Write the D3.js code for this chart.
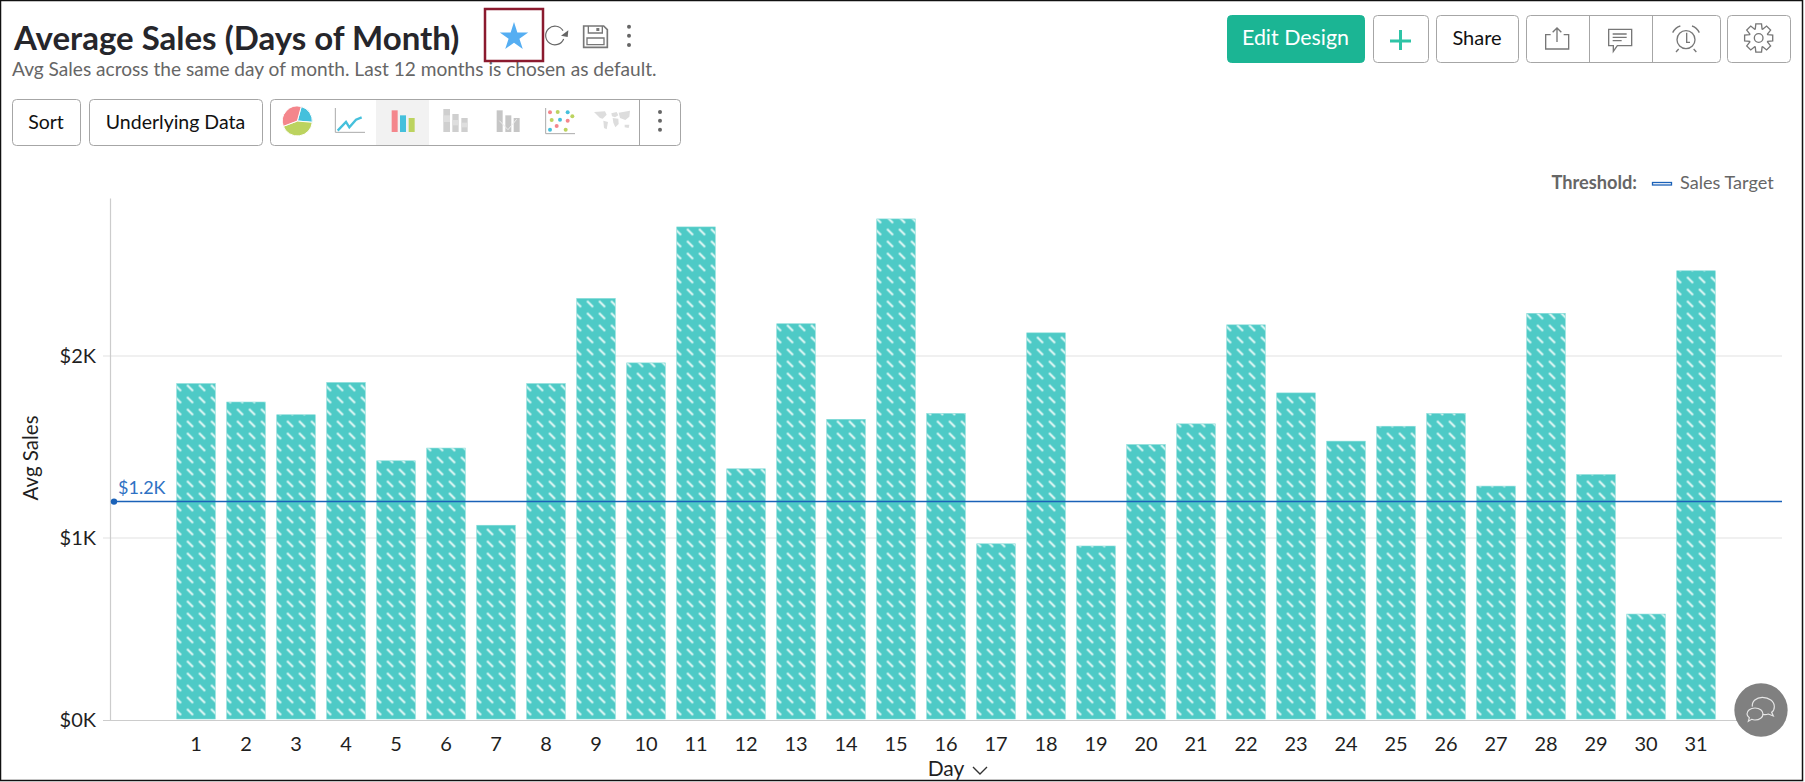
<!DOCTYPE html>
<html>
<head>
<meta charset="utf-8">
<script src="https://cdn.jsdelivr.net/npm/d3@7"></script>
<style>
  html, body { margin: 0; padding: 0; background: #fff; overflow: hidden; }
  svg { display: block; font-family: Lato, "Open Sans", sans-serif; }
</style>
</head>
<body>
<svg id="chart" width="1805" height="782"></svg>
<script>
const days = d3.range(1, 32).map(String);
const avgSales = [1848, 1747, 1677, 1854, 1424, 1494, 1070, 1848, 2316, 1962, 2709, 1380, 2177, 1652, 2753, 1684, 968, 2127, 956, 1513, 1627, 2171, 1797, 1532, 1614, 1684, 1285, 2234, 1348, 582, 2468];
const yTicks = [0, 1000, 2000];
const salesTarget = 1200;

const titleText = "Average Sales (Days of Month)";
const subtitleText = "Avg Sales across the same day of month. Last 12 months is chosen as default.";

const svg = d3.select("#chart");
const width = 1805, height = 782;

// page frame
svg.append("rect").attr("x", 0.5).attr("y", 0.5).attr("width", width - 3).attr("height", height - 2)
  .attr("fill", "#fff").attr("stroke", "#111").attr("stroke-width", 1.5);

// scales
const x = d3.scaleBand().domain(days).range([171, 1721]).paddingInner(0.23).paddingOuter(0.115);
const y = d3.scaleLinear().domain([0, 2868]).range([720, 198]);
const fmt = (d) => "$" + d / 1000 + "K";

// one hatch per bar, the dashes start from each bar's left edge
const defs = svg.append("defs");
const hatch = defs.selectAll("pattern").data(days).join("pattern")
  .attr("id", (d) => "hatch" + d).attr("patternUnits", "userSpaceOnUse")
  .attr("x", (d) => x(d) + 8.8).attr("y", 455.5).attr("width", 12).attr("height", 12);
hatch.append("rect").attr("width", 12).attr("height", 12).attr("fill", "#4ecac6");
hatch.append("line").attr("x1", 1.5).attr("y1", 1.5).attr("x2", 7.5).attr("y2", 7.5)
  .attr("stroke", "#e9f9f8").attr("stroke-width", 1.8);

// gridlines
svg.append("g").selectAll("line").data(yTicks.slice(1)).join("line")
  .attr("x1", 103).attr("x2", 1782)
  .attr("y1", (d) => y(d)).attr("y2", (d) => y(d))
  .attr("stroke", "#ebebeb").attr("stroke-width", 1.5);

// y axis
const yAxis = svg.append("g").attr("transform", "translate(110,0)")
  .call(d3.axisLeft(y).tickValues(yTicks).tickFormat(fmt).tickSize(0).tickPadding(14));
yAxis.select(".domain").attr("stroke", "#ccc").attr("stroke-width", 1.2);
yAxis.selectAll("text").attr("font-size", 20).attr("fill", "#1f1f1f").attr("font-family", "Lato");

// x axis
const xAxis = svg.append("g").attr("transform", "translate(0,720)")
  .call(d3.axisBottom(x).tickSize(0).tickPadding(17));
xAxis.select(".domain").remove();
xAxis.selectAll("text").attr("font-size", 20).attr("fill", "#1f1f1f").attr("font-family", "Lato");
svg.append("line").attr("x1", 103).attr("x2", 1782).attr("y1", 720.5).attr("y2", 720.5)
  .attr("stroke", "#ccc").attr("stroke-width", 1.2);

// bars
svg.append("g").selectAll("rect").data(avgSales).join("rect")
  .attr("x", (d, i) => x(days[i]))
  .attr("y", (d) => y(d))
  .attr("width", x.bandwidth())
  .attr("height", (d) => y(0) - y(d) - 1)
  .attr("fill", (d, i) => `url(#hatch${days[i]})`)
  .attr("stroke", "#7fdad6").attr("stroke-width", 0.6);

// threshold
svg.append("line").attr("x1", 113).attr("x2", 1782).attr("y1", y(salesTarget)).attr("y2", y(salesTarget))
  .attr("stroke", "#1b62b8").attr("stroke-width", 1.5);
svg.append("circle").attr("cx", 114).attr("cy", y(salesTarget)).attr("r", 3.2).attr("fill", "#1b62b8");
svg.append("text").attr("x", 118).attr("y", y(salesTarget) - 7.5).attr("font-size", 18)
  .attr("fill", "#2f72c4").text(fmt(salesTarget));

// axis titles
svg.append("text").attr("transform", "translate(38,458) rotate(-90)").attr("text-anchor", "middle")
  .attr("font-size", 20.5).attr("fill", "#1f1f1f").text("Avg Sales");
svg.append("text").attr("x", 946).attr("y", 776).attr("text-anchor", "middle")
  .attr("font-size", 21).attr("fill", "#1f1f1f").text("Day");
svg.append("path").attr("d", "M973 767l7 7l7-7").attr("fill", "none").attr("stroke", "#333").attr("stroke-width", 1.4);

// threshold legend
svg.append("text").attr("x", 1637).attr("y", 189).attr("text-anchor", "end").attr("font-size", 18.2)
  .attr("font-weight", 700).attr("fill", "#666").text("Threshold:");
svg.append("rect").attr("x", 1652.5).attr("y", 182.5).attr("width", 19).attr("height", 2.5)
  .attr("fill", "#fff").attr("stroke", "#1b62b8").attr("stroke-width", 1.3);
svg.append("text").attr("x", 1680).attr("y", 189).attr("font-size", 18.1).attr("fill", "#666").text("Sales Target");

// header
svg.append("text").attr("x", 14).attr("y", 50).attr("font-size", 33).attr("font-weight", 700)
  .attr("fill", "#26262b").text(titleText);
svg.append("text").attr("x", 12).attr("y", 76).attr("font-size", 19.1).attr("fill", "#666").text(subtitleText);

// toolbar buttons
function button(x0, y0, w, h, label, opts = {}) {
  svg.append("rect").attr("x", x0 + 0.5).attr("y", y0 + 0.5).attr("width", w).attr("height", h).attr("rx", 4)
    .attr("fill", opts.fill || "#fff").attr("stroke", opts.fill || "#a6a6a6").attr("stroke-width", 1);
  if (label) {
    svg.append("text").attr("x", x0 + w / 2).attr("y", y0 + h / 2 + 6.5).attr("text-anchor", "middle")
      .attr("font-size", opts.size || 19.5).attr("fill", opts.color || "#111").text(label);
  }
}
button(12, 99, 68, 46, "Sort");
button(89, 99, 173, 46, "Underlying Data");
button(270, 99, 410, 46);
svg.append("rect").attr("x", 376).attr("y", 100).attr("width", 53).attr("height", 45).attr("fill", "#f2f2f2");
svg.append("line").attr("x1", 639.5).attr("x2", 639.5).attr("y1", 99).attr("y2", 145).attr("stroke", "#a6a6a6");

button(1227, 15, 137, 47, "Edit Design", { fill: "#1bb594", color: "#fff", size: 21.4 });
button(1373, 15, 55, 47);
button(1436, 15, 82, 47, "Share", { size: 20 });
button(1526, 15, 194, 47);
button(1727, 15, 63, 47);
[1589.5, 1652.5].forEach((px) => {
  svg.append("line").attr("x1", px).attr("x2", px).attr("y1", 15).attr("y2", 62).attr("stroke", "#a6a6a6");
});
svg.append("path").attr("d", "M1400.5 30v20M1390 41h21").attr("stroke", "#2ec4a6").attr("stroke-width", 3);

// star with highlight box
svg.append("path").attr("d", d3.symbol(d3.symbolStar, 250)()).attr("transform", "translate(514,37)").attr("fill", "#55aef2");
svg.append("rect").attr("x", 485).attr("y", 9).attr("width", 58).attr("height", 52).attr("fill", "none")
  .attr("stroke", "#8b1a2e").attr("stroke-width", 2.5);

// icons are drawn at 3x and scaled down
function iconGroup(tx, ty) {
  return svg.append("g").attr("transform", `translate(${tx},${ty}) scale(${1 / 3})`);
}
function outline(g, d, color = "#777", sw = 4) {
  return g.append("path").attr("d", d).attr("fill", "none").attr("stroke", color).attr("stroke-width", sw);
}
function blocks(g, list, color) {
  g.selectAll(null).data(list).join("rect")
    .attr("x", (d) => d[0]).attr("y", (d) => d[1]).attr("width", (d) => d[2]).attr("height", (d) => d[3])
    .attr("fill", color);
}

// chart type switcher
const tools = iconGroup(270, 98);
const pieSlices = [[0.26, 1.66, "#45c0dc"], [1.66, 4.35, "#bcd35f"], [4.35, 6.55, "#f4868c"]];
const toolArc = d3.arc().innerRadius(0).outerRadius(45);
pieSlices.forEach((s) => {
  tools.append("path").attr("transform", "translate(82,69)")
    .attr("d", toolArc({ startAngle: s[0], endAngle: s[1] }))
    .attr("fill", s[2]).attr("stroke", "#fff").attr("stroke-width", 3);
});
outline(tools, "M196 30V103H285", "#aaa", 3);
outline(tools, "M203 98L228 72L238 88L258 65L275 58", "#45c0dc", 7);
blocks(tools, [[365, 37, 18, 65]], "#f4868c");
blocks(tools, [[390, 52, 18, 50]], "#45c0dc");
blocks(tools, [[416, 60, 18, 42]], "#bcd35f");
blocks(tools, [[520, 33, 20, 69], [547, 48, 19, 54], [574, 60, 19, 42]], "#cfcfcf");
blocks(tools, [[520, 52, 20, 20], [547, 66, 19, 16], [574, 74, 19, 14]], "#dedede");
blocks(tools, [[680, 37, 18, 65], [706, 52, 18, 50], [731, 60, 18, 42]], "#c6c6c6");
outline(tools, "M688 68L714 95L740 64", "#eee", 3);
outline(tools, "M827 30V107H915", "#aaa", 3);
const toolDots = [[840, 43, "#f4868c"], [863, 42, "#bcd35f"], [893, 43, "#45c0dc"], [907, 55, "#bcd35f"], [845, 66, "#bcd35f"],
  [870, 65, "#45c0dc"], [893, 68, "#f4868c"], [860, 84, "#f4868c"], [840, 95, "#45c0dc"], [887, 95, "#bcd35f"]];
tools.selectAll(null).data(toolDots).join("circle")
  .attr("cx", (d) => d[0]).attr("cy", (d) => d[1]).attr("r", 6).attr("fill", (d) => d[2]);
// small world map
tools.append("path").attr("fill", "#dddddd").attr("d",
  "M972 42L1005 40L1010 50L998 62L990 60ZM1000 68L1014 72L1010 94L1002 90ZM1024 46L1040 42L1045 52L1035 58L1026 55Z" +
  "M1028 60L1045 62L1046 78L1036 88L1030 74ZM1046 44L1080 38L1078 56L1066 66L1050 60ZM1064 80L1078 80L1076 90L1064 88Z");
tools.selectAll(null).data([42, 68, 95]).join("circle")
  .attr("cx", 1170).attr("cy", (d) => d).attr("r", 6).attr("fill", "#666");

// title actions
const actions = iconGroup(535, 15);
outline(actions, "M84 47A28 28 0 1 0 86 72", "#666", 3.5);
actions.append("path").attr("d", "M100 46L98 66L78 62Z").attr("fill", "#666");
outline(actions, "M146 33H206L217 44V97H146Z", "#777", 5);
outline(actions, "M156 69H207V89H156Z", "#777", 4);
outline(actions, "M160 33V54H202V33", "#777", 4);
blocks(actions, [[184, 39, 9, 9]], "#777");
actions.selectAll(null).data([35, 62, 90]).join("circle")
  .attr("cx", 282).attr("cy", (d) => d).attr("r", 6).attr("fill", "#666");

// share, comment, alarm, settings
const right = iconGroup(1530, 14);
outline(right, "M62 62H47V105H116V62H101M81 84V42M68 55L81 42L94 55");
outline(right, "M236 46H305V95H262L250 112V95H236ZM248 60H290M248 70H290M248 80H275");
right.append("circle").attr("cx", 468).attr("cy", 77).attr("r", 27).attr("fill", "none").attr("stroke", "#777").attr("stroke-width", 4);
outline(right, "M470 56V85H480M428 56Q436 40 451 36M486 36Q500 40 508 56M446 105L438 114M491 105L499 114");
const gearPoints = [];
d3.range(8).forEach((i) => {
  const a = (i * Math.PI) / 4;
  [[-0.36, 29], [-0.2, 43], [0.2, 43], [0.36, 29]].forEach((p) => {
    gearPoints.push([686 + p[1] * Math.cos(a + p[0]), 72 + p[1] * Math.sin(a + p[0])]);
  });
});
right.append("path").attr("d", d3.line()(gearPoints) + "Z").attr("fill", "none").attr("stroke", "#777").attr("stroke-width", 4);
right.append("circle").attr("cx", 686).attr("cy", 72).attr("r", 13).attr("fill", "none").attr("stroke", "#777").attr("stroke-width", 4);

// chat bubble
const chat = iconGroup(1725, 680);
chat.append("circle").attr("cx", 108).attr("cy", 90).attr("r", 80).attr("fill", "#808080");
outline(chat, "M82 80C80 64 94 52 112 52C132 52 148 64 148 80C148 88 144 94 140 97L145 108L130 102C124 104 118 104 113 103", "#e6e6e6", 3.5);
outline(chat, "M90 84C104 84 114 92 114 102C114 112 104 120 90 120C86 120 82 119 80 118L70 124L73 113C69 110 66 106 66 102C66 92 76 84 90 84Z", "#e6e6e6", 3.5);
</script>
</body>
</html>
